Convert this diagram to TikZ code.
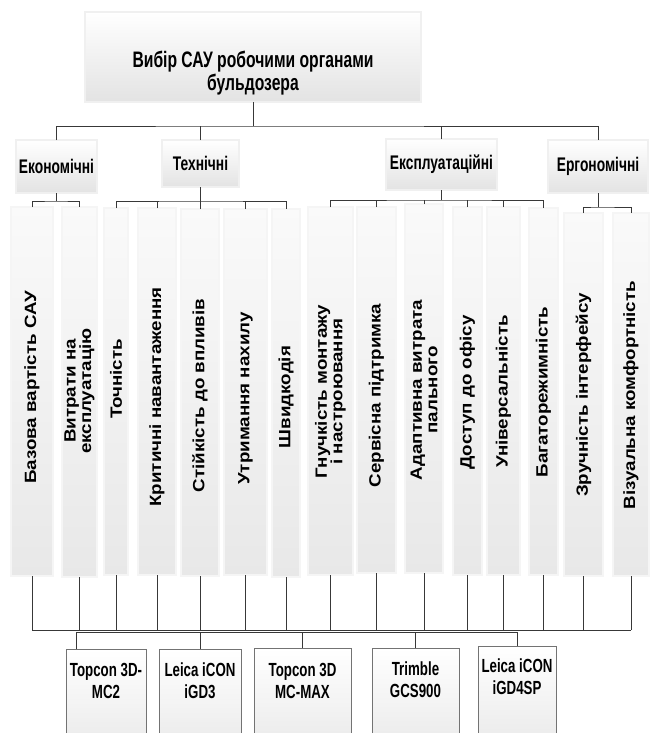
\documentclass[tikz,border=0pt]{standalone}
\usepackage{fontspec}
\setmainfont{Liberation Sans}
\newfontfamily\nfont[FakeStretch=0.7]{Liberation Sans}
\newfontfamily\wfont[FakeStretch=1.15]{Liberation Sans}
\tikzset{
  conn/.style={draw=black!78, line width=0.9pt},
  headbox/.style={draw=black!62, double=black!6, double distance=1.1pt, line width=0.55pt,
    top color=white, bottom color=black!11, inner sep=0pt, outer sep=0pt},
  critbox/.style={draw=black!58, double=black!4, double distance=1.2pt, line width=0.55pt,
    top color=black!2, bottom color=black!9, inner sep=0pt, outer sep=0pt},
  altbox/.style={draw=black!55, line width=0.7pt, top color=white, bottom color=black!10,
    inner sep=0pt, outer sep=0pt},
  roottext/.style={font=\nfont\bfseries\fontsize{22.4}{23}\selectfont, align=center, inner sep=0pt},
  headtext/.style={font=\nfont\bfseries\fontsize{19.7}{21}\selectfont, align=center},
  crittext/.style={rotate=90, font=\wfont\bfseries\fontsize{16.3}{15.5}\selectfont, align=center, inner sep=0pt},
  alttext/.style={font=\nfont\bfseries\fontsize{19}{22}\selectfont, align=center, inner sep=0pt},
}
\begin{document}
\begin{tikzpicture}[x=1pt,y=-1pt]
\useasboundingbox (0,0) rectangle (650,733);
\clip (0,0) rectangle (650,733);

% root
\node[headbox, minimum width=336, minimum height=90] (root) at (253,57) {};
\node[roottext] (roott) at (253,73.5) {Вибір САУ робочими органами\\бульдозера};

% level 2
\node[headbox, headtext, minimum width=81, minimum height=53] (econ) at (56.5,166.5) {Економічні};
\node[headbox, headtext, minimum width=77, minimum height=47] (tech) at (200.5,163.5) {Технічні};
\node[headbox, headtext, minimum width=111, minimum height=51] (expl) at (441.5,164.5) {Експлуатаційні};
\node[headbox, headtext, minimum width=100, minimum height=53] (ergo) at (598,166.5) {Ергономічні};

% criteria boxes
\node[critbox, minimum width=42, minimum height=369] (c1) at (32,391.5) {};
\node[critbox, minimum width=35, minimum height=370] (c2) at (79.5,392) {};
\node[critbox, minimum width=24, minimum height=367] (c3) at (116,391.5) {};
\node[critbox, minimum width=38, minimum height=367] (c4) at (157,391.5) {};
\node[critbox, minimum width=38, minimum height=367] (c5) at (200,392.5) {};
\node[critbox, minimum width=43, minimum height=366] (c6) at (245.5,392) {};
\node[critbox, minimum width=28, minimum height=368] (c7) at (286,393) {};
\node[critbox, minimum width=45, minimum height=368] (c8) at (330.5,391) {};
\node[critbox, minimum width=39, minimum height=366] (c9) at (376.5,390) {};
\node[critbox, minimum width=38, minimum height=369] (c10) at (424,388.5) {};
\node[critbox, minimum width=29, minimum height=368] (c11) at (467.5,391) {};
\node[critbox, minimum width=33, minimum height=368] (c12) at (503.5,391) {};
\node[critbox, minimum width=29, minimum height=367] (c13) at (543.5,391.5) {};
\node[critbox, minimum width=39, minimum height=363] (c14) at (583.5,394.5) {};
\node[critbox, minimum width=36, minimum height=363] (c15) at (631,394.5) {};

% criteria texts
\node[crittext] (t1) at (32,387.5) {Базова вартість САУ};
\node[crittext] (t2) at (79.5,391) {Витрати на\\експлуатацію};
\node[crittext] (t3) at (116,379) {Точність};
\node[crittext] (t4) at (157,397) {Критичні навантаження};
\node[crittext] (t5) at (200,395.5) {Стійкість до впливів};
\node[crittext] (t6) at (245.5,398.5) {Утримання нахилу};
\node[crittext] (t7) at (286,397) {Швидкодія};
\node[crittext] (t8) at (330.5,391.5) {Гнучкість монтажу\\і настроювання};
\node[crittext] (t9) at (376.5,395.5) {Сервісна підтримка};
\node[crittext] (t10) at (424,390) {Адаптивна витрата\\пального};
\node[crittext] (t11) at (467.5,392.5) {Доступ до офісу};
\node[crittext] (t12) at (503.5,391.5) {Універсальність};
\node[crittext] (t13) at (543.5,392) {Багаторежимність};
\node[crittext] (t14) at (583.5,395) {Зручність інтерфейсу};
\node[crittext] (t15) at (631,395) {Візуальна комфортність};

% alternatives
\node[altbox, minimum width=80, minimum height=120] (a1) at (106,709) {};
\node[altbox, minimum width=82, minimum height=120] (a2) at (200,709) {};
\node[altbox, minimum width=97, minimum height=120] (a3) at (302.5,708) {};
\node[altbox, minimum width=87, minimum height=120] (a4) at (415.5,708) {};
\node[altbox, minimum width=78, minimum height=120] (a5) at (517,706) {};
\node[alttext] (l1) at (106,681) {Topcon 3D-\\MC2};
\node[alttext] (l2) at (200,681) {Leica iCON\\iGD3};
\node[alttext] (l3) at (302.5,681) {Topcon 3D\\MC-MAX};
\node[alttext] (l4) at (415.5,680) {Trimble\\GCS900};
\node[alttext] (l5) at (517,677) {Leica iCON\\iGD4SP};

% root to level 2
\coordinate (j0) at (253,126);
\draw[conn] (root.south) -- (j0);
\draw[conn] (econ.north) |- (j0) -| (ergo.north);
\draw[conn] (tech.north) -- (tech.north |- j0);
\draw[conn] (expl.north) -- (expl.north |- j0);

% economic
\coordinate (je) at (56.5,201);
\draw[conn] (econ.south) -- (je);
\draw[conn] (c1.north) |- (je) -| (c2.north);

% technical
\coordinate (jt) at (200.5,201);
\draw[conn] (tech.south) -- (jt);
\draw[conn] (c3.north) |- (jt) -| (c7.north);
\draw[conn] (c4.north) -- (c4.north |- jt);
\draw[conn] (c5.north) -- (c5.north |- jt);
\draw[conn] (c6.north) -- (c6.north |- jt);

% exploitation
\coordinate (jx) at (441.5,200);
\draw[conn] (expl.south) -- (jx);
\draw[conn] (c8.north) |- (jx) -| (c13.north);
\draw[conn] (c9.north) -- (c9.north |- jx);
\draw[conn] (c10.north) -- (c10.north |- jx);
\draw[conn] (c11.north) -- (c11.north |- jx);
\draw[conn] (c12.north) -- (c12.north |- jx);

% ergonomic
\coordinate (jg) at (598,207);
\draw[conn] (ergo.south) -- (jg);
\draw[conn] (c14.north) |- (jg) -| (c15.north);

% criteria bus
\coordinate (busL) at (32,630);
\coordinate (busR) at (631,630);
\draw[conn] (busL) -- (busR);
\foreach \k in {1,...,15} {
  \draw[conn] (c\k.south) -- (c\k.south |- busL);
}

% alternatives bus
\coordinate (altL) at (76,632.5);
\coordinate (altR) at (517,632.5);
\draw[conn] (altL |- a1.north) -- (altL) -- (altR) -- (a5.north);
\draw[conn] (a2.north) -- (a2.north |- altL);
\draw[conn] (a3.north) -- (a3.north |- altL);
\draw[conn] (a4.north) -- (a4.north |- altL);
\end{tikzpicture}
\end{document}
